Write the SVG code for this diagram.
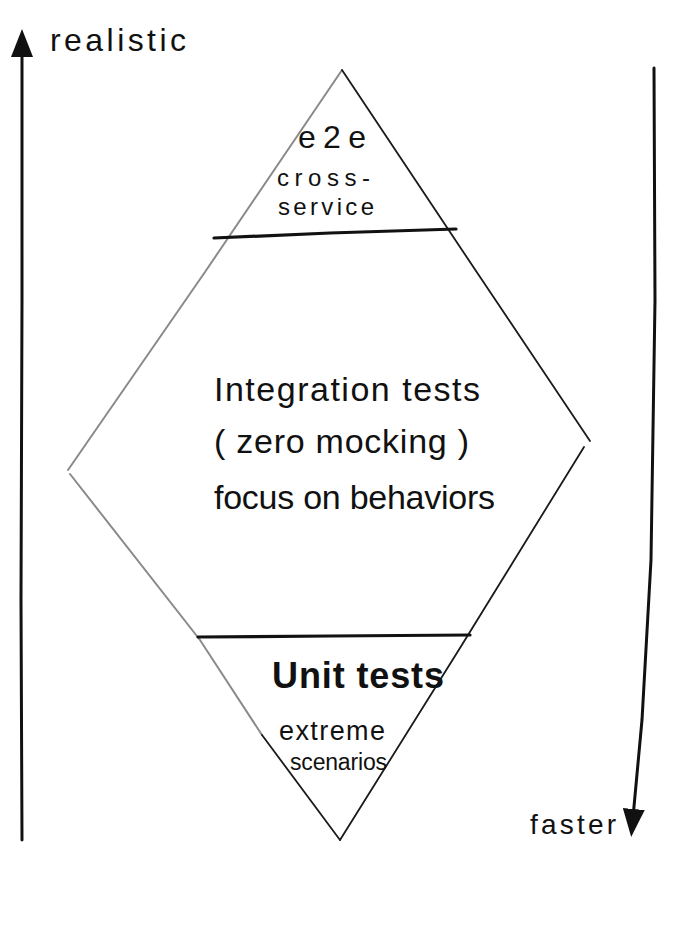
<svg xmlns="http://www.w3.org/2000/svg" width="700" height="930" viewBox="0 0 700 930">
  <style>
    .t { font-family: "Liberation Sans", "DejaVu Sans", sans-serif; fill: #111; }
    .pencil { fill: none; stroke: #8a8a8a; stroke-width: 2; stroke-linecap: round; }
    .ink { fill: none; stroke: #1a1a1a; stroke-width: 1.8; stroke-linecap: round; }
    .bar { fill: none; stroke: #111; stroke-width: 3.2; stroke-linecap: round; }
    .axis { fill: none; stroke: #111; stroke-width: 3; stroke-linecap: round; }
  </style>
  <defs>
    <marker id="ah" viewBox="0 0 28 22" refX="3" refY="11" markerWidth="28" markerHeight="22" markerUnits="userSpaceOnUse" orient="auto">
      <path d="M0,0 L28,11 L0,22 Z" fill="#111"/>
    </marker>
  </defs>
  <rect width="700" height="930" fill="#fff"/>

  <g id="connectors">
    <path id="axis-realistic" class="axis" d="M22,840 L21,600 L22,300 L22,54" marker-end="url(#ah)"/>
    <path id="axis-faster" class="axis" d="M654,68 L655,300 L651,560 L642,720 L633.5,812" marker-end="url(#ah)"/>
  </g>

  <g id="label-realistic">
    <text class="t" x="50" y="51" font-size="32" textLength="136" lengthAdjust="spacing">realistic</text>
  </g>
  <g id="label-faster">
    <text class="t" x="530" y="834" font-size="28" textLength="86" lengthAdjust="spacing">faster</text>
  </g>

  <g id="diamond">
    <path class="pencil" d="M68,470 L205,272 L342,70"/>
    <path class="ink" d="M342,70 L470,262 L590,441"/>
    <path class="ink" d="M584,447 L460,648 L340,840"/>
    <path class="pencil" d="M70,474 L200,640 L262,735"/>
    <path class="ink" d="M262,735 L340,840"/>
  </g>

  <g id="e2e">
    <path class="bar" d="M214,238 L330,233 L456,229"/>
    <text class="t" x="298" y="148" font-size="32" textLength="68" lengthAdjust="spacing">e2e</text>
    <text class="t" x="277" y="186" font-size="24" textLength="93" lengthAdjust="spacing">cross-</text>
    <text class="t" x="278" y="215" font-size="24" textLength="96" lengthAdjust="spacing">service</text>
  </g>

  <g id="integration">
    <text class="t" x="214" y="401" font-size="34" textLength="266" lengthAdjust="spacing">Integration tests</text>
    <text class="t" x="214" y="453" font-size="34" textLength="255" lengthAdjust="spacing">( zero mocking )</text>
    <text class="t" x="214" y="509" font-size="34" textLength="281" lengthAdjust="spacing">focus on behaviors</text>
  </g>

  <g id="unit">
    <path class="bar" d="M198,637 L330,636 L470,635"/>
    <text class="t" x="272" y="688" font-size="36" font-weight="bold" textLength="172" lengthAdjust="spacing">Unit tests</text>
    <text class="t" x="279" y="740" font-size="27" textLength="106" lengthAdjust="spacing">extreme</text>
    <text class="t" x="290" y="770" font-size="23" textLength="97" lengthAdjust="spacing">scenarios</text>
  </g>
</svg>
